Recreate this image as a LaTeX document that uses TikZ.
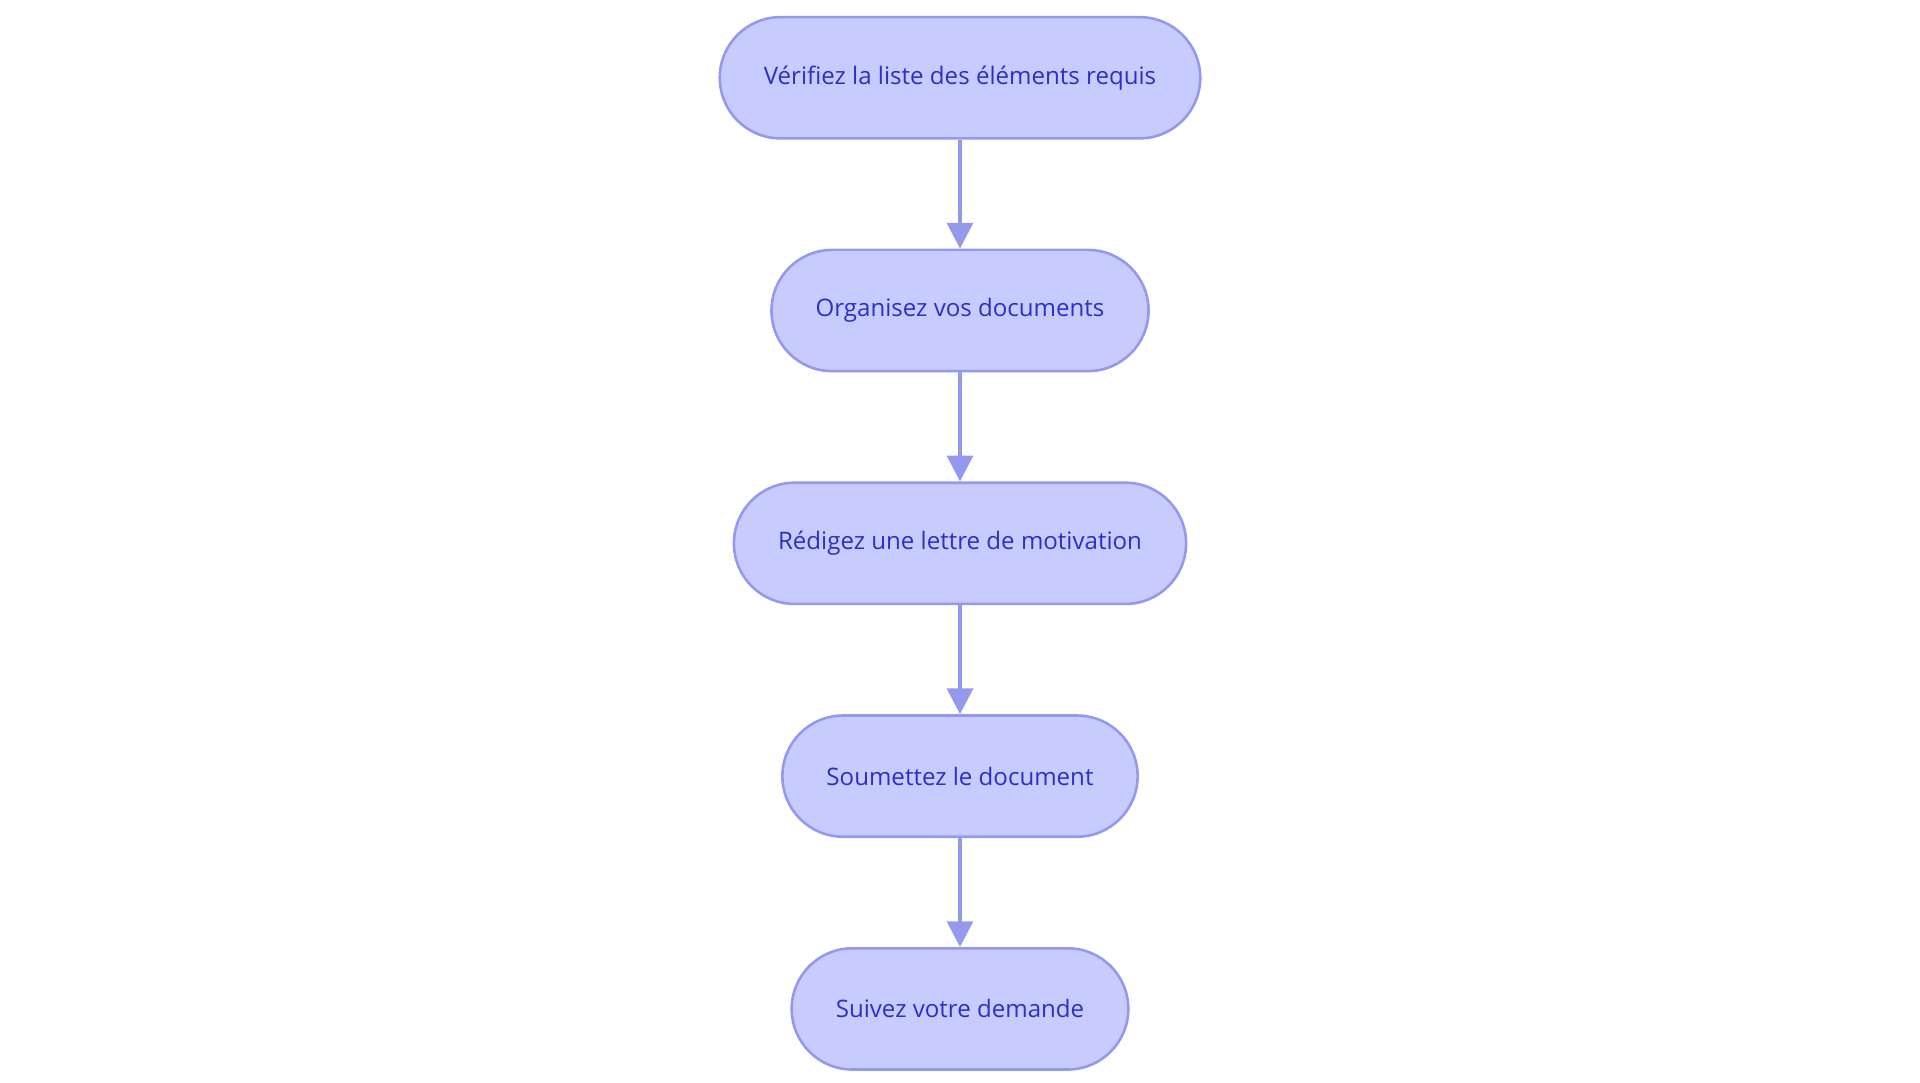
\documentclass[tikz,border=0pt]{standalone}
\usepackage{fontspec}
\setmainfont{Open Sans}
\usetikzlibrary{positioning,arrows.meta}
\definecolor{stepfill}{HTML}{C8CBFD}
\definecolor{stepline}{HTML}{9599EE}
\definecolor{steptext}{HTML}{2B2FCB}
\tikzset{
  stage/.style={draw=stepline, fill=stepfill, text=steptext, line width=0.6pt,
    rounded corners=0.495cm, minimum height=0.99cm, inner xsep=0.36cm,
    font=\fontsize{5.6pt}{7pt}\selectfont},
  flow/.style={-{Triangle[width=0.21cm,length=0.21cm]}, stepline, line width=0.9pt}
}
\begin{document}
\begin{tikzpicture}[node distance=0.89cm]
    \useasboundingbox (0,0) rectangle (15.68,-8.84);

    \node[stage] (s1) at (7.84,-0.635) {Vérifiez la liste des éléments requis};
    \node[stage, below=of s1] (s2) {Organisez vos documents};
    \node[stage, below=of s2] (s3) {Rédigez une lettre de motivation};
    \node[stage, below=of s3] (s4) {Soumettez le document};
    \node[stage, below=of s4] (s5) {Suivez votre demande};

    \draw[flow] (s1) -- (s2);
    \draw[flow] (s2) -- (s3);
    \draw[flow] (s3) -- (s4);
    \draw[flow] (s4) -- (s5);
\end{tikzpicture}
\end{document}
